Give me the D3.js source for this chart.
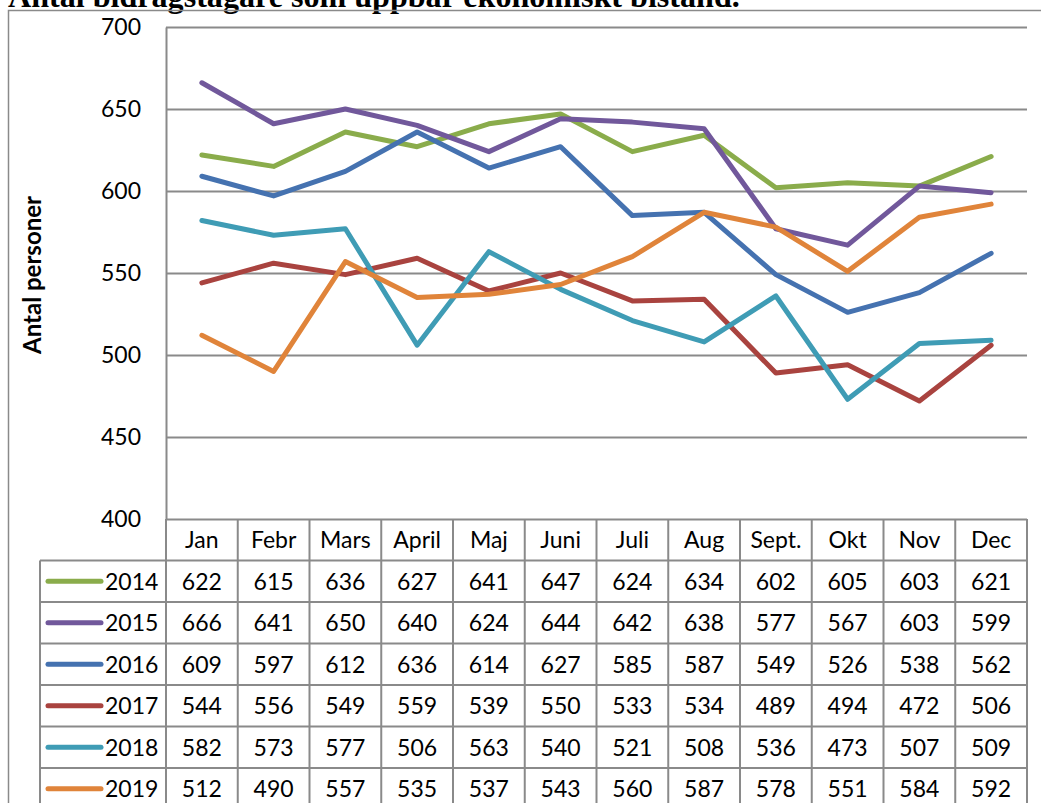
<!DOCTYPE html>
<html>
<head>
<meta charset="utf-8">
<script src="https://cdn.jsdelivr.net/npm/d3@7"></script>
<style>
  body { margin: 0; background: #fff; }
  svg { display: block; }
</style>
</head>
<body>
<div id="chart"></div>
<script>
// data
const months = ["Jan", "Febr", "Mars", "April", "Maj", "Juni", "Juli", "Aug", "Sept.", "Okt", "Nov", "Dec"];
const years = ["2014", "2015", "2016", "2017", "2018", "2019"];
const v2014 = [622, 615, 636, 627, 641, 647, 624, 634, 602, 605, 603, 621];
const v2015 = [666, 641, 650, 640, 624, 644, 642, 638, 577, 567, 603, 599];
const v2016 = [609, 597, 612, 636, 614, 627, 585, 587, 549, 526, 538, 562];
const v2017 = [544, 556, 549, 559, 539, 550, 533, 534, 489, 494, 472, 506];
const v2018 = [582, 573, 577, 506, 563, 540, 521, 508, 536, 473, 507, 509];
const v2019 = [512, 490, 557, 535, 537, 543, 560, 587, 578, 551, 584, 592];
const yTicks = [400, 450, 500, 550, 600, 650, 700];
const title = "Antal bidragstagare som uppbar ekonomiskt bistånd.";
const yTitle = "Antal personer";

const colors = ["#8aac4b", "#71589b", "#4572b0", "#a9433f", "#3f9cb5", "#e0843a"];

const series = years.map((y, i) => ({
    year: y,
    color: colors[i],
    values: [v2014, v2015, v2016, v2017, v2018, v2019][i]
}));

const
    width = 1041,
    height = 803,
    plotLeft = 166,
    plotRight = 1027,
    plotTop = 27,
    plotBottom = 519,
    rowH = 41.5,
    legendLeft = 40,
    gridColor = "#8a8a8a",
    font = "Lato, 'Open Sans', sans-serif";

var svg = d3.select("#chart")
    .append("svg")
    .attr("width", width)
    .attr("height", height);

// title, cut off at the top like the reference
var t = svg.append("text")
    .attr("x", 8)
    .attr("y", 7)
    .style("font-family", "'Liberation Serif', 'Times New Roman', serif")
    .style("font-weight", "bold")
    .style("font-size", "28px")
    .text(title);
var tl = t.node().getComputedTextLength();
t.style("font-size", (28 * 732 / tl) + "px");

// outer chart border
svg.append("path")
    .attr("d", `M8.5,${height + 2} V10.5 H${width + 2}`)
    .attr("fill", "none")
    .attr("stroke", gridColor)
    .attr("stroke-width", 1.5);

var xscale = d3.scaleBand()
    .domain(months)
    .range([plotLeft, plotRight]);

var yscale = d3.scaleLinear()
    .domain([400, 700])
    .range([plotBottom, plotTop]);

var rows = d3.scaleBand()
    .domain(["head"].concat(years))
    .range([plotBottom, plotBottom + rowH * 7]);

// y axis with gridlines
var yaxis = svg.append("g")
    .attr("transform", `translate(${plotLeft},0)`)
    .call(d3.axisLeft(yscale)
        .tickValues(yTicks)
        .tickSize(-(plotRight - plotLeft))
        .tickSizeOuter(0)
        .tickPadding(25));
yaxis.selectAll("line, path")
    .attr("stroke", gridColor)
    .attr("stroke-width", 2);
yaxis.selectAll("text")
    .style("font-family", font)
    .style("font-size", "23px")
    .attr("fill", "#000");

svg.append("text")
    .attr("transform", `translate(41,${(plotTop + plotBottom) / 2 + 2}) rotate(-90)`)
    .attr("text-anchor", "middle")
    .style("font-family", font)
    .style("font-weight", "bold")
    .style("font-size", "24px")
    .text(yTitle);

// data table
var table = svg.append("g");

table.selectAll(".hline")
    .data(rows.domain().slice(1).concat(["end"]))
    .enter()
    .append("line")
    .attr("x1", legendLeft)
    .attr("x2", plotRight)
    .attr("y1", d => d == "end" ? plotBottom + rowH * 7 : rows(d))
    .attr("y2", d => d == "end" ? plotBottom + rowH * 7 : rows(d))
    .attr("stroke", gridColor)
    .attr("stroke-width", 2);

table.selectAll(".vline")
    .data(months.concat(["end"]))
    .enter()
    .append("line")
    .attr("x1", d => d == "end" ? plotRight : xscale(d))
    .attr("x2", d => d == "end" ? plotRight : xscale(d))
    .attr("y1", plotBottom)
    .attr("y2", height + 5)
    .attr("stroke", gridColor)
    .attr("stroke-width", 2);

table.append("line")
    .attr("x1", legendLeft)
    .attr("x2", legendLeft)
    .attr("y1", rows(years[0]))
    .attr("y2", height + 5)
    .attr("stroke", gridColor)
    .attr("stroke-width", 2);

table.selectAll(".head")
    .data(months)
    .enter()
    .append("text")
    .attr("x", d => xscale(d) + xscale.bandwidth() / 2)
    .attr("y", rows("head") + rowH / 2)
    .attr("dy", "0.36em")
    .attr("text-anchor", "middle")
    .style("font-family", font)
    .style("font-size", "23px")
    .text(d => d);

series.forEach(s => {
    var cy = rows(s.year) + rowH / 2;
    table.append("line")
        .attr("x1", 48)
        .attr("x2", 101)
        .attr("y1", cy)
        .attr("y2", cy)
        .attr("stroke", s.color)
        .attr("stroke-width", 5)
        .attr("stroke-linecap", "round");
    table.append("text")
        .attr("x", 105)
        .attr("y", cy)
        .attr("dy", "0.36em")
        .style("font-family", font)
        .style("font-size", "23px")
        .text(s.year);
    table.selectAll(null)
        .data(s.values)
        .enter()
        .append("text")
        .attr("x", (d, i) => xscale(months[i]) + xscale.bandwidth() / 2)
        .attr("y", cy)
        .attr("dy", "0.36em")
        .attr("text-anchor", "middle")
        .style("font-family", font)
        .style("font-size", "23px")
        .text(d => d);
});

// lines
var line = d3.line()
    .x((d, i) => xscale(months[i]) + xscale.bandwidth() / 2)
    .y(d => yscale(d));

svg.append("g")
    .selectAll("path")
    .data(series)
    .enter()
    .append("path")
    .attr("d", d => line(d.values))
    .attr("fill", "none")
    .attr("stroke", d => d.color)
    .attr("stroke-width", 5)
    .attr("stroke-linejoin", "round")
    .attr("stroke-linecap", "round");
</script>
</body>
</html>
